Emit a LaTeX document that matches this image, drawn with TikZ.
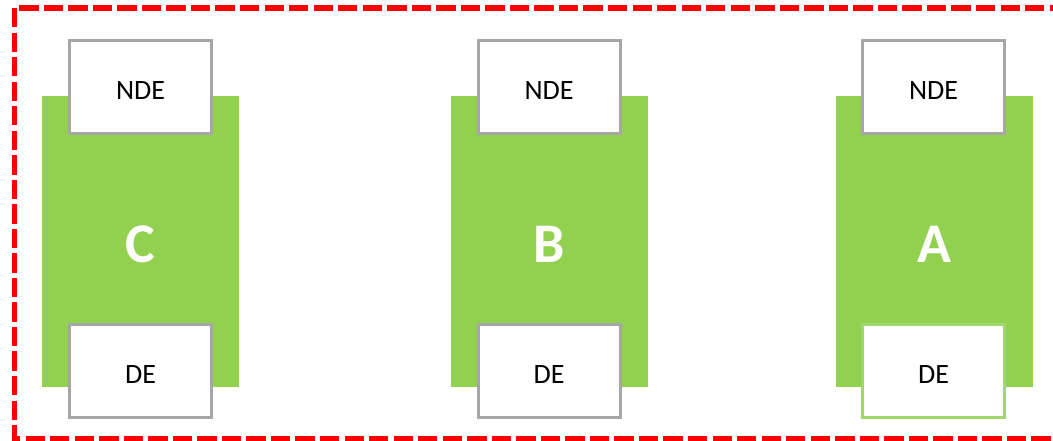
\documentclass[tikz,border=0pt]{standalone}
\usepackage{fontspec}
\setmainfont{Carlito}
\definecolor{bodygreen}{RGB}{146,208,80}
\definecolor{boxgray}{RGB}{166,166,166}
\definecolor{lightgreen}{RGB}{160,214,110}
\definecolor{framered}{RGB}{255,0,0}
\newcommand{\lowtext}[1]{\raisebox{-2.3pt}[\height][\depth]{#1}}
\begin{document}
\begin{tikzpicture}[x=0.75pt,y=-0.75pt,
  body/.style={fill=bodygreen,draw=none,minimum width=147.75pt,minimum height=218.25pt,inner sep=0pt,outer sep=0pt},
  endbox/.style={fill=white,draw=boxgray,line width=2.25pt,minimum width=106.5pt,minimum height=69.75pt,inner sep=0pt,outer sep=0pt,font=\fontsize{21pt}{24pt}\selectfont},
  letter/.style={anchor=base,text=white,font=\fontsize{42pt}{48pt}\selectfont\bfseries,inner sep=0pt},
  frame/.style={draw=framered,line width=4.2pt,dash pattern=on 14.5pt off 3.9pt}
]
\useasboundingbox (0,0) rectangle (1053,441);
\draw[frame] (14.5,8) rectangle (1068,438.5);

% C
\node[body] (gC) at (140.5,241.5) {};
\node[letter] (lC) at (140.5,263) {C};
\node[endbox] (ndeC) at (140.5,87) {\lowtext{NDE}};
\node[endbox] (deC) at (140.5,371) {\lowtext{DE}};

% B
\node[body] (gB) at (549.5,241.5) {};
\node[letter] (lB) at (549.5,263) {B};
\node[endbox] (ndeB) at (549,87.5) {\lowtext{NDE}};
\node[endbox] (deB) at (549,371) {\lowtext{DE}};

% A
\node[body] (gA) at (934.5,241.5) {};
\node[letter] (lA) at (934.5,263) {A};
\node[endbox] (ndeA) at (933.5,87) {\lowtext{NDE}};
\node[endbox,draw=lightgreen] (deA) at (933.5,371.5) {\lowtext{DE}};
\end{tikzpicture}
\end{document}
